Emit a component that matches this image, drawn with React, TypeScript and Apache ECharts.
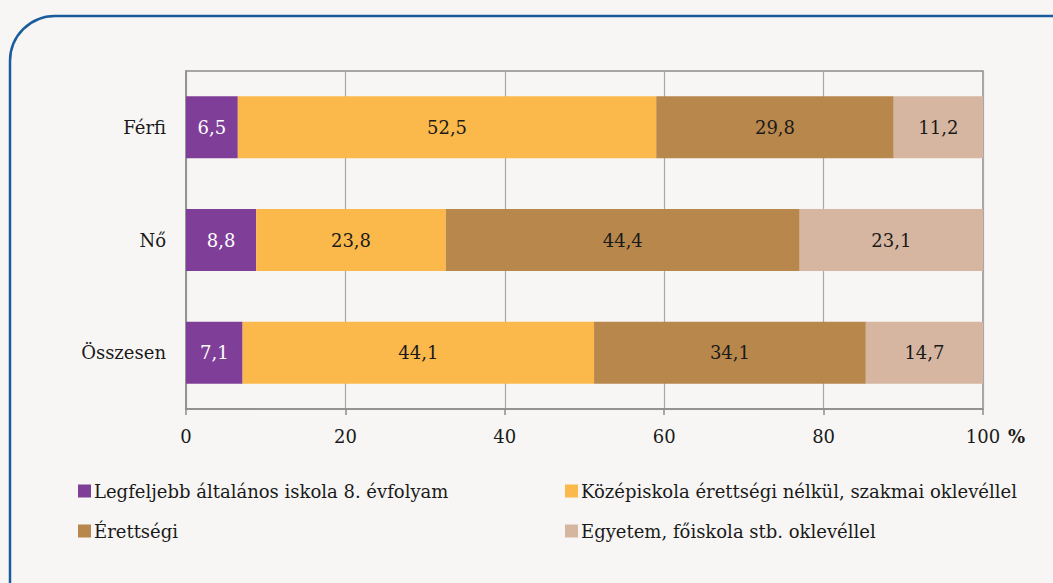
import React, { useEffect, useRef } from "react";
import * as echarts from "echarts";

const categories = ["Férfi", "Nő", "Összesen"];
const seriesNames = [
  "Legfeljebb általános iskola 8. évfolyam",
  "Középiskola érettségi nélkül, szakmai oklevéllel",
  "Érettségi",
  "Egyetem, főiskola stb. oklevéllel",
];
const primary = [6.5, 8.8, 7.1];
const vocational = [52.5, 23.8, 44.1];
const secondary = [29.8, 44.4, 34.1];
const tertiary = [11.2, 23.1, 14.7];
const xTicks = [0, 20, 40, 60, 80, 100];

const colors = ["#7f3f98", "#fbb84b", "#b8874b", "#d6b6a0"];
const labelColors = ["#ffffff", "#1a1a1a", "#1a1a1a", "#1a1a1a"];
const FONT = "DejaVu Serif";
const FS = 18;

export default function App() {
  const ref = useRef<HTMLDivElement>(null);
  useEffect(() => {
    document.body.style.margin = "0";
    const chart = echarts.init(ref.current!, null, { renderer: "svg" });
    const values = [primary, vocational, secondary, tertiary];
    const legendText = { color: "#1a1a1a", fontSize: FS, fontFamily: FONT, padding: [0, 0, 0, -2] };
    chart.setOption({
      animation: false,
      backgroundColor: "#f7f6f4",
      textStyle: { fontFamily: FONT },
      grid: {
        left: 186,
        right: 70,
        top: 71,
        bottom: 174,
        show: true,
        borderColor: "#8c8c8c",
        borderWidth: 1.5,
        backgroundColor: "transparent",
      },
      xAxis: {
        type: "value",
        min: xTicks[0],
        max: xTicks[xTicks.length - 1],
        interval: 20,
        axisLine: { show: true, lineStyle: { color: "#8c8c8c", width: 1.5 } },
        axisTick: { show: true, length: 6, lineStyle: { color: "#8c8c8c", width: 1.5 } },
        splitLine: { show: true, lineStyle: { color: "#a8a8a8", width: 1.2 } },
        axisLabel: { color: "#1a1a1a", fontSize: FS, fontFamily: FONT, margin: 18 },
      },
      yAxis: {
        type: "category",
        data: categories,
        inverse: true,
        axisLine: { show: true, lineStyle: { color: "#8c8c8c", width: 1.5 } },
        axisTick: { show: false },
        axisLabel: { color: "#1a1a1a", fontSize: FS, fontFamily: FONT, margin: 20 },
      },
      legend: [
        {
          left: 73,
          top: 477,
          orient: "vertical",
          icon: "rect",
          itemWidth: 13,
          itemHeight: 13,
          itemGap: 22,
          data: [seriesNames[0], seriesNames[2]],
          textStyle: legendText,
          selectedMode: false,
        },
        {
          left: 560,
          top: 477,
          orient: "vertical",
          icon: "rect",
          itemWidth: 13,
          itemHeight: 13,
          itemGap: 22,
          data: [seriesNames[1], seriesNames[3]],
          textStyle: legendText,
          selectedMode: false,
        },
      ],
      series: seriesNames.map((name, i) => ({
        name,
        type: "bar",
        stack: "total",
        barWidth: "55%",
        data: values[i],
        itemStyle: { color: colors[i] },
        label: {
          show: true,
          position: "inside",
          color: labelColors[i],
          fontSize: FS,
          fontFamily: FONT,
          formatter: (p: any) => String(p.value).replace(".", ","),
        },
      })),
      graphic: [
        {
          type: "text",
          left: 1008,
          top: 427,
          style: { text: "%", fontSize: FS, fontWeight: "bold", fontFamily: FONT, fill: "#1a1a1a" },
        },
        {
          type: "rect",
          shape: { x: 10, y: 16, width: 1100, height: 640, r: 45 },
          style: { fill: "none", stroke: "#1a5c9c", lineWidth: 2.5 },
          silent: true,
        },
      ],
    });
    return () => chart.dispose();
  }, []);
  return (
    <div ref={ref} style={{ position: "fixed", left: 0, top: 0, width: 1053, height: 583 }} />
  );
}
